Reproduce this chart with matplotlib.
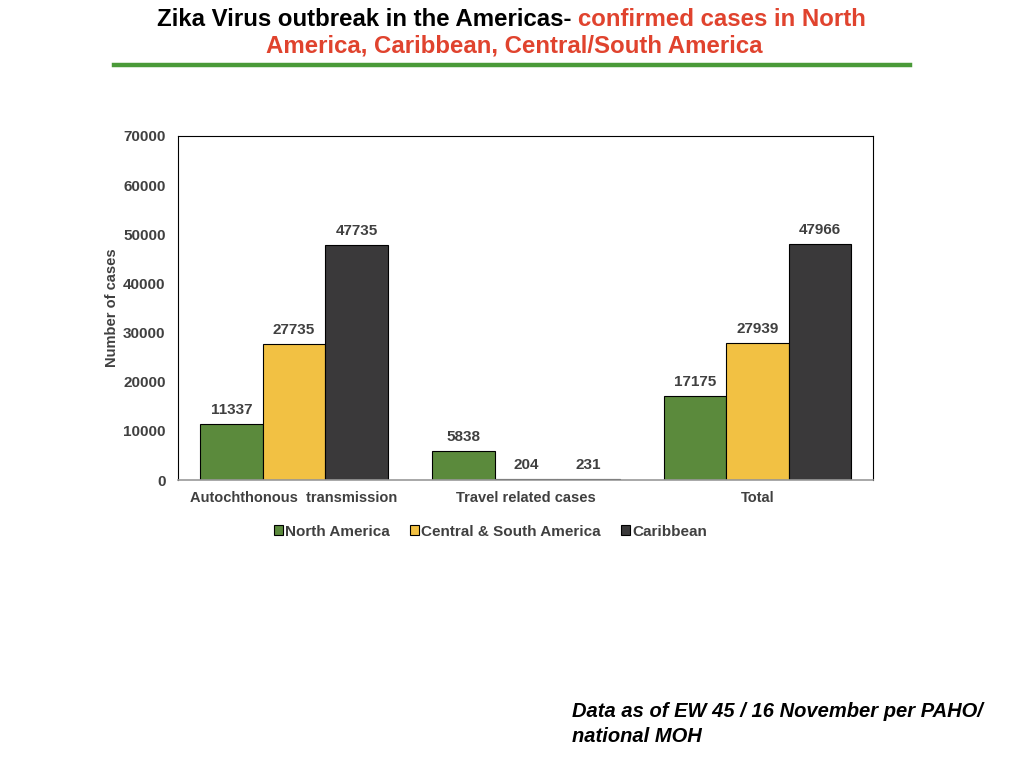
import numpy as np
import matplotlib.pyplot as plt
from matplotlib.lines import Line2D

# data
categories = ["Autochthonous  transmission", "Travel related cases", "Total"]
series_names = ["North America", "Central & South America", "Caribbean"]
north_america = [11337, 5838, 17175]
central_south = [27735, 204, 27939]
caribbean = [47735, 231, 47966]
y_ticks = [0, 10000, 20000, 30000, 40000, 50000, 60000, 70000]

colors = ["#5b8a3c", "#f2c143", "#3a393a"]
label_col = "#404040"
plt.rcParams['font.family'] = ['Liberation Sans', 'DejaVu Sans']

fig = plt.figure(figsize=(10.24, 7.68), dpi=100)

# title, first line in two colours
line1_black = "Zika Virus outbreak in the Americas- "
line1_red = "confirmed cases in North"
tb = fig.text(0.153, 0.966, line1_black, ha='left', va='baseline', fontsize=17.3,
              fontweight='bold', color='black')
fig.canvas.draw()
bb = tb.get_window_extent()
fig.text(bb.x1 / fig.bbox.width, 0.966, line1_red, ha='left', va='baseline', fontsize=17.3,
         fontweight='bold', color='#e0432e')
fig.text(0.502, 0.931, "America, Caribbean, Central/South America", ha='center', va='baseline',
         fontsize=17.3, fontweight='bold', color='#e0432e')
fig.add_artist(Line2D([0.111, 0.889], [0.915, 0.915], color='#4a9a38', lw=3.2,
                      transform=fig.transFigure))

ax = fig.add_axes([0.174, 0.375, 0.679, 0.448])
x = np.arange(len(categories))
w = 0.27
for i, (vals, name) in enumerate(zip([north_america, central_south, caribbean], series_names)):
    pos = x + (i - 1) * w
    ax.bar(pos, vals, w, color=colors[i], edgecolor='black', linewidth=0.8, label=name)
    for p, v in zip(pos, vals):
        ax.text(p, v + 1400, str(v), ha='center', va='bottom', fontsize=11,
                fontweight='bold', color=label_col)

ax.set_xlim(-0.5, 2.5)
ax.set_ylim(0, 70000)
ax.set_yticks(y_ticks)
ax.set_yticklabels([str(t) for t in y_ticks], fontsize=11, fontweight='bold', color=label_col)
ax.set_xticks(x)
ax.set_xticklabels(categories, fontsize=10.5, fontweight='bold', color=label_col)
ax.tick_params(axis='both', length=0)
ax.tick_params(axis='x', pad=8)
ax.tick_params(axis='y', pad=9)
ax.set_ylabel("Number of cases", fontsize=10.5, fontweight='bold', color=label_col, labelpad=3)
for s in ['top', 'right', 'left']:
    ax.spines[s].set_color('black')
    ax.spines[s].set_linewidth(0.8)
ax.spines['bottom'].set_color('#999999')
ax.spines['bottom'].set_linewidth(1.2)

leg = ax.legend(loc='center', bbox_to_anchor=(0.449, -0.15), ncol=3, frameon=False,
                fontsize=11, handlelength=0.6, handleheight=0.6, handletextpad=0.15,
                columnspacing=1.3)
for txt in leg.get_texts():
    txt.set_color(label_col)
    txt.set_fontweight('bold')

fig.text(0.559, 0.057, "Data as of EW 45 / 16 November per PAHO/\nnational MOH", ha='left',
         va='center', fontsize=14.5, fontweight='bold', fontstyle='italic', color='black',
         linespacing=1.4)

fig.savefig("out.png", dpi=100)
